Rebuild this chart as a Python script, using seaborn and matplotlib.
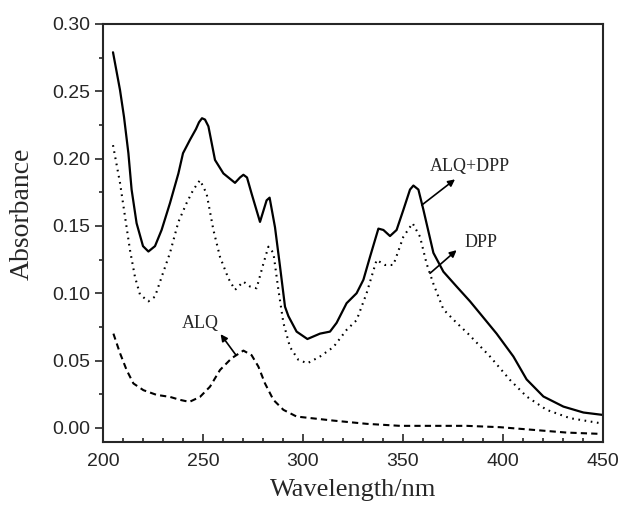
import numpy as np
import pandas as pd
import seaborn as sns
import matplotlib.pyplot as plt
from matplotlib.ticker import MultipleLocator, FormatStrFormatter

# ALQ+DPP (solid)
mix_nm = [205, 208.5, 210.5, 212.7, 214.3, 216.8, 220, 222.7, 226, 229.3, 233.5, 237.7,
          240, 243.5, 246.5, 248, 249.5, 251, 252.7, 256, 260.2, 266, 268.5, 270.2, 272,
          274.3, 278.5, 281.8, 283.3, 286, 288.5, 291, 292.7, 296.8, 302.2, 308.5, 313.5,
          316.8, 321.8, 326.8, 330.2, 333.5, 337.7, 340.2, 343.5, 346.8, 350.2, 353.5,
          355.2, 357.7, 360.2, 365.2, 370.2, 376.8, 383.5, 388.5, 396.8, 405.2, 411.8,
          420.2, 430.2, 440.2, 450]
mix_abs = [0.279, 0.251, 0.231, 0.204, 0.177, 0.152, 0.135, 0.131, 0.135, 0.147, 0.167, 0.189,
           0.204, 0.214, 0.222, 0.227, 0.230, 0.229, 0.224, 0.199, 0.189, 0.182, 0.186, 0.188, 0.186,
           0.174, 0.153, 0.169, 0.171, 0.149, 0.120, 0.090, 0.083, 0.0715, 0.066, 0.070, 0.0715,
           0.078, 0.0926, 0.100, 0.110, 0.127, 0.148, 0.147, 0.1425, 0.147, 0.162, 0.177,
           0.180, 0.177, 0.162, 0.130, 0.116, 0.105, 0.094, 0.085, 0.070, 0.053, 0.036,
           0.0233, 0.0158, 0.0114, 0.0096]

# DPP (dotted)
dpp_nm = [205, 208.5, 211, 213.5, 216, 218.5, 222.7, 226, 229.3, 233.5, 237.7, 241.8,
          245.2, 248.5, 251.8, 255.2, 258.5, 262.7, 266, 270.2, 273.5, 276.8, 280.2, 282.7,
          285.2, 287.7, 290.2, 293.5, 297.7, 302.2, 308.5, 315.2, 321.8, 326.8, 331.8, 336.8,
          341, 345.2, 350.2, 354.8, 358.5, 361.8, 365.2, 370.2, 376.8, 382.5, 393.5, 403.5,
          411.8, 421.8, 433.5, 448.5, 450]
dpp_abs = [0.210, 0.182, 0.157, 0.132, 0.112, 0.099, 0.094, 0.0975, 0.112, 0.130, 0.153, 0.167,
           0.177, 0.184, 0.174, 0.147, 0.127, 0.111, 0.1025, 0.1086, 0.105, 0.1037, 0.122, 0.1346,
           0.130, 0.1025, 0.078, 0.060, 0.0505, 0.048, 0.053, 0.060, 0.0728, 0.080, 0.100, 0.1247,
           0.121, 0.121, 0.142, 0.152, 0.142, 0.122, 0.107, 0.088, 0.078, 0.070, 0.053, 0.0356,
           0.0233, 0.0134, 0.0072, 0.0035, 0.0033]

# ALQ (dashed)
alq_nm = [205.2, 208.5, 211.8, 215.2, 220.2, 226.8, 233.5, 238.5, 243.2, 248.5, 253.5, 258.5,
          264.3, 270.2, 274.3, 277.7, 281, 285.2, 290.2, 296.8, 315.2, 331.8, 348.5, 365.2,
          381.8, 398.5, 415.2, 431.8, 449.3]
alq_abs = [0.070, 0.0555, 0.043, 0.033, 0.028, 0.0245, 0.023, 0.0208, 0.0193, 0.023, 0.0306, 0.043,
           0.0517, 0.0574, 0.054, 0.0455, 0.033, 0.0208, 0.0134, 0.0084, 0.0054, 0.003, 0.0015, 0.0015,
           0.0015, 0.0005, -0.0015, -0.0035, -0.0045]

sns.set_style("ticks")
plt.rcParams['font.family'] = ['Liberation Sans', 'DejaVu Sans']

fig = plt.figure(figsize=(6.21, 5.05), dpi=100)
ax = fig.add_axes([103 / 621, 1 - 442 / 505, 500 / 621, 418 / 505])

sns.lineplot(x=mix_nm, y=mix_abs, ax=ax, color='black', lw=1.6, estimator=None, sort=False)
sns.lineplot(x=dpp_nm, y=dpp_abs, ax=ax, color='black', lw=1.5, estimator=None, sort=False,
             linestyle=(0, (0.8, 2.2)))
sns.lineplot(x=alq_nm, y=alq_abs, ax=ax, color='black', lw=1.5, estimator=None, sort=False,
             linestyle=(0, (3, 2)))

ax.set_xlim(200, 450)
ax.set_ylim(-0.0105, 0.30)
ax.xaxis.set_major_locator(MultipleLocator(50))
ax.xaxis.set_minor_locator(MultipleLocator(10))
ax.yaxis.set_major_locator(MultipleLocator(0.05))
ax.yaxis.set_minor_locator(MultipleLocator(0.025))
ax.yaxis.set_major_formatter(FormatStrFormatter('%.2f'))
ax.tick_params(axis='x', which='both', direction='in', labelsize=14, pad=8, width=1.2)
ax.tick_params(axis='x', which='major', length=6)
ax.tick_params(axis='x', which='minor', length=3)
ax.tick_params(axis='y', which='both', direction='out', labelsize=14, width=1.2)
ax.tick_params(axis='y', which='major', length=6)
ax.tick_params(axis='y', which='minor', length=3)
for s in ax.spines.values():
    s.set_linewidth(1.5)
    s.set_visible(True)

ax.set_xlabel('Wavelength/nm', family='Liberation Serif', fontsize=19)
ax.set_ylabel('Absorbance', family='Liberation Serif', fontsize=20)
ax.xaxis.set_label_coords(0.5, -0.088)
ax.yaxis.set_label_coords(-0.136, 0.547)

afont = dict(family='Liberation Serif', fontsize=13, ha='center', va='center')
arrow = dict(arrowstyle='-|>', color='black', lw=1.2, mutation_scale=10, shrinkA=0, shrinkB=0)
ax.annotate('', xy=(376, 0.1846), xytext=(359.4, 0.1655), arrowprops=arrow)
ax.text(383.5, 0.194, 'ALQ+DPP', **afont)
ax.annotate('', xy=(376.8, 0.132), xytext=(363.5, 0.1148), arrowprops=arrow)
ax.text(389, 0.138, 'DPP', **afont)
ax.annotate('', xy=(258.8, 0.0696), xytext=(266.5, 0.054), arrowprops=arrow)
ax.text(248.5, 0.0777, 'ALQ', **afont)

fig.savefig('out.png', dpi=100)
